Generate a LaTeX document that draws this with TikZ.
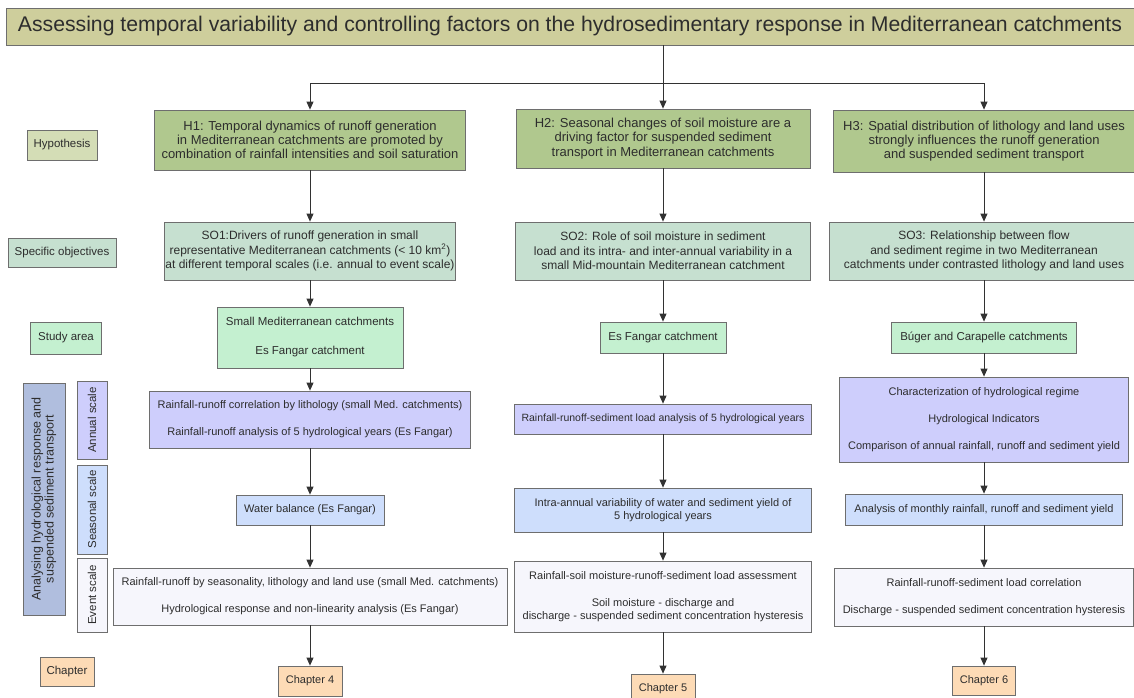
\documentclass[tikz,border=0pt]{standalone}
\usepackage{fontspec}
\setmainfont{Liberation Sans}
\usetikzlibrary{arrows.meta}
\definecolor{titlefill}{RGB}{206,206,156}
\definecolor{hyplabel}{RGB}{212,221,182}
\definecolor{hypfill}{RGB}{176,200,142}
\definecolor{objfill}{RGB}{198,224,208}
\definecolor{areafill}{RGB}{196,240,208}
\definecolor{anafill}{RGB}{176,190,222}
\definecolor{annfill}{RGB}{206,206,252}
\definecolor{seafill}{RGB}{206,222,252}
\definecolor{evfill}{RGB}{246,246,252}
\definecolor{chapfill}{RGB}{253,219,182}
\definecolor{linecol}{RGB}{50,50,50}
\definecolor{boxline}{RGB}{110,110,110}
\definecolor{textcol}{RGB}{45,45,45}

\begin{document}
\begin{tikzpicture}[x=1pt,y=-1pt]
\tikzstyle{dep}= [-{Triangle[width=7pt,length=8pt]},line width=0.8pt,draw=linecol]
\tikzstyle{bb}= [rectangle,draw=boxline,line width=0.8pt,text=textcol,align=center,inner sep=1pt,font=\fontsize{11}{13.5}\selectfont]
\tikzstyle{hypo}= [bb,fill=hypfill,font=\fontsize{13}{14.3}\selectfont]
\tikzstyle{obj}= [bb,fill=objfill,font=\fontsize{12}{14.3}\selectfont]
\tikzstyle{area}= [bb,fill=areafill,font=\fontsize{11.5}{14}\selectfont]
\tikzstyle{annual}= [bb,fill=annfill]
\tikzstyle{seasonal}= [bb,fill=seafill]
\tikzstyle{event}= [bb,fill=evfill]
\tikzstyle{chap}= [bb,fill=chapfill]
\tikzstyle{vlbl}= [bb,rotate=90,font=\fontsize{11.5}{13}\selectfont]

\useasboundingbox (0,0) rectangle (1134,697);

\path
	(570,26.5) node[bb,fill=titlefill,minimum width=1128,minimum height=37,font=\fontsize{21.2}{24}\selectfont] (title) {Assessing temporal variability and controlling factors on the hydrosedimentary response in Mediterranean catchments}
	(663,83) coordinate (split)
	% row labels
	( 62,145)   node[bb,fill=hyplabel,minimum width=70,minimum height=30,font=\fontsize{11.5}{13}\selectfont] (lhyp) {Hypothesis}
	( 62,252.5) node[bb,fill=objfill,minimum width=108,minimum height=29,font=\fontsize{11.5}{13}\selectfont] (lobj) {Specific objectives}
	( 66,338)   node[bb,fill=areafill,minimum width=71,minimum height=32,font=\fontsize{11.5}{13}\selectfont] (larea) {Study area}
	( 44,499)   node[vlbl,fill=anafill,minimum width=232,minimum height=42,font=\fontsize{12.5}{13}\selectfont] (lana) {Analysing hydrological response and\\suspended sediment transport}
	( 92,420)   node[vlbl,fill=annfill,minimum width=78,minimum height=30] (lann) {Annual scale}
	( 92,509.5) node[vlbl,fill=seafill,minimum width=89,minimum height=30] (lsea) {Seasonal scale}
	( 92,595)   node[vlbl,fill=evfill,minimum width=74,minimum height=30] (lev) {Event scale}
	( 67,671.5) node[chap,minimum width=54,minimum height=29,font=\fontsize{11.5}{13}\selectfont] (lchap) {Chapter}
	% H1 column
	(310,140)   node[hypo,minimum width=311,minimum height=60] (h1) {H1: Temporal dynamics of runoff generation\\in Mediterranean catchments are promoted by\\combination of rainfall intensities and soil saturation}
	(310,251)   node[obj,minimum width=283,minimum height=58] (so1) {SO1:Drivers of runoff generation in small\\representative Mediterranean catchments (< 10 km\textsuperscript{2})\\at different temporal scales (i.e. annual to event scale)}
	(310,337.5) node[area,minimum width=186,minimum height=61] (sa1) {Small Mediterranean catchments\\[15pt]Es Fangar catchment}
	(310,419.5) node[annual,minimum width=321,minimum height=57] (an1) {Rainfall-runoff correlation by lithology (small Med. catchments)\\[13.5pt]Rainfall-runoff analysis of 5 hydrological years (Es Fangar)}
	(310,510)   node[seasonal,minimum width=148,minimum height=30] (se1) {Water balance (Es Fangar)}
	(310,596.5) node[event,minimum width=394,minimum height=57] (ev1) {Rainfall-runoff by seasonality, lithology and land use (small Med. catchments)\\[13.5pt]Hydrological response and non-linearity analysis (Es Fangar)}
	(310,681)   node[chap,minimum width=64,minimum height=30] (ch4) {Chapter 4}
	% H2 column
	(663,138.5) node[hypo,minimum width=294,minimum height=59] (h2) {H2: Seasonal changes of soil moisture are a\\driving factor for suspended sediment\\transport in Mediterranean catchments}
	(663,251)   node[obj,minimum width=295,minimum height=58] (so2) {SO2: Role of soil moisture in sediment\\load and its intra- and inter-annual variability in a\\small Mid-mountain Mediterranean catchment}
	(663,337.5) node[area,minimum width=126,minimum height=31] (sa2) {Es Fangar catchment}
	(663,419)   node[annual,minimum width=297,minimum height=30,font=\fontsize{10.5}{13}\selectfont] (an2) {Rainfall-runoff-sediment load analysis of 5 hydrological years}
	(663,510)   node[seasonal,minimum width=297,minimum height=44] (se2) {Intra-annual variability of water and sediment yield of\\5 hydrological years}
	(663,596.5) node[event,minimum width=297,minimum height=71] (ev2) {Rainfall-soil moisture-runoff-sediment load assessment\\[13.5pt]Soil moisture - discharge and\\discharge - suspended sediment concentration hysteresis}
	(663,689)   node[chap,minimum width=64,minimum height=30] (ch5) {Chapter 5}
	% H3 column
	(984,141)   node[hypo,minimum width=301,minimum height=62] (h3) {H3: Spatial distribution of lithology and land uses\\strongly influences the runoff generation\\and suspended sediment transport}
	(984,251)   node[obj,minimum width=309,minimum height=58] (so3) {SO3: Relationship between flow\\and sediment regime in two Mediterranean\\catchments under contrasted lithology and land uses}
	(984,337.5) node[area,minimum width=185,minimum height=31] (sa3) {Búger and Carapelle catchments}
	(984,419.5) node[annual,minimum width=289,minimum height=85] (an3) {Characterization of hydrological regime\\[13.5pt]Hydrological Indicators\\[13.5pt]Comparison of annual rainfall, runoff and sediment yield}
	(984,509.5) node[seasonal,minimum width=277,minimum height=31] (se3) {Analysis of monthly rainfall, runoff and sediment yield}
	(984,597)   node[event,minimum width=299,minimum height=58] (ev3) {Rainfall-runoff-sediment load correlation\\[13.5pt]Discharge - suspended sediment concentration hysteresis}
	(984,680.5) node[chap,minimum width=63,minimum height=29] (ch6) {Chapter 6}
;
\draw[line width=0.8pt,draw=linecol] (title.south -| split) -- (split);
\draw[dep] (split) -| (h1);
\draw[dep] (split) -- (h2);
\draw[dep] (split) -| (h3);
\draw[dep] (h1) -- (so1);
\draw[dep] (so1) -- (sa1);
\draw[dep] (sa1) -- (an1);
\draw[dep] (an1) -- (se1);
\draw[dep] (se1) -- (ev1);
\draw[dep] (ev1) -- (ch4);
\draw[dep] (h2) -- (so2);
\draw[dep] (so2) -- (sa2);
\draw[dep] (sa2) -- (an2);
\draw[dep] (an2) -- (se2);
\draw[dep] (se2) -- (ev2);
\draw[dep] (ev2) -- (ch5);
\draw[dep] (h3) -- (so3);
\draw[dep] (so3) -- (sa3);
\draw[dep] (sa3) -- (an3);
\draw[dep] (an3) -- (se3);
\draw[dep] (se3) -- (ev3);
\draw[dep] (ev3) -- (ch6);
\end{tikzpicture}
\end{document}
